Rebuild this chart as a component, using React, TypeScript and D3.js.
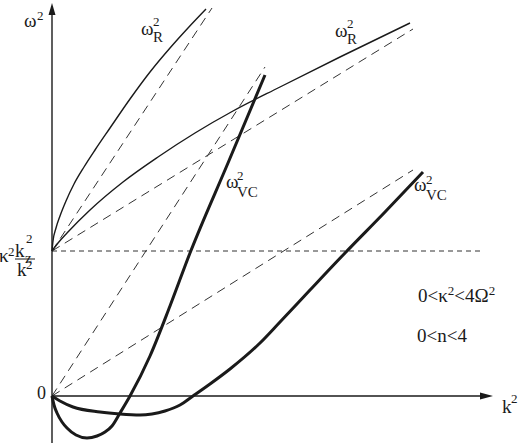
import * as d3 from "d3";

type Pt = [number, number];

// k^2 on x, omega^2 on y (arbitrary units)
const rSteep: Pt[] = [
  [0, 1.45], [0.01, 1.55], [0.04, 1.68], [0.08, 1.8], [0.14, 1.95], [0.22, 2.12],
  [0.32, 2.29], [0.43, 2.46], [0.58, 2.68], [0.78, 2.97], [0.98, 3.24], [1.18, 3.48],
  [1.36, 3.68], [1.54, 3.87],
];
const rShallow: Pt[] = [
  [0, 1.45], [0.06, 1.53], [0.15, 1.63], [0.38, 1.86], [0.71, 2.14], [1.06, 2.39],
  [1.43, 2.63], [1.81, 2.85], [2.28, 3.09], [2.88, 3.39], [3.58, 3.73],
];
const vcSteep: Pt[] = [
  [0, 0], [0.02, -0.09], [0.05, -0.17], [0.1, -0.26], [0.15, -0.32], [0.24, -0.39],
  [0.35, -0.42], [0.45, -0.4], [0.53, -0.36], [0.6, -0.3], [0.68, -0.17], [0.78, 0],
  [0.98, 0.4], [1.18, 0.9], [1.38, 1.43], [1.76, 2.33], [2.13, 3.21],
];
const vcShallow: Pt[] = [
  [0, 0], [0.08, -0.05], [0.21, -0.11], [0.48, -0.16], [0.68, -0.18], [0.88, -0.19],
  [1.0, -0.18], [1.13, -0.15], [1.28, -0.09], [1.41, 0], [1.58, 0.12], [1.78, 0.27],
  [2.08, 0.53], [2.28, 0.74], [2.58, 1.06], [2.93, 1.43], [3.33, 1.84], [3.71, 2.24],
];
// dashed guide lines
const guides: Pt[][] = [
  [[0, 1.45], [1.6, 3.88]],
  [[0, 1.45], [3.61, 3.67]],
  [[0, 0], [2.13, 3.29]],
  [[0, 0], [3.61, 2.26]],
];
const levelLine: Pt[] = [[0, 1.45], [4.3, 1.45]];

const xMax = 4.41;
const yMax = 3.93;
const yMin = -0.47;

const FONT = "'Liberation Serif', 'DejaVu Serif', serif";
const INK = "#1a1a1a";

export default function App() {
  const x = d3.scaleLinear().domain([0, xMax]).range([52, 493]);
  const y = d3.scaleLinear().domain([0, yMax]).range([396, 3]);

  const curve = d3.line<Pt>().x(d => x(d[0])).y(d => y(d[1])).curve(d3.curveMonotoneX);
  const straight = d3.line<Pt>().x(d => x(d[0])).y(d => y(d[1]));

  const x0 = x(0), y0 = y(0);
  const big = 19, sub = 15, sup = 13;

  return (
    <svg width={520} height={443}
      style={{ position: "absolute", left: 0, top: 0, background: "#fff", fontFamily: FONT }}
      fill={INK}>
      {/* guides */}
      {guides.map((g, i) => (
        <path key={i} d={straight(g) || ""} stroke="#333" strokeWidth={1} strokeDasharray="9,6" fill="none" />
      ))}
      <path d={straight(levelLine) || ""} stroke="#333" strokeWidth={1} strokeDasharray="5,4" fill="none" />

      {/* axes */}
      <line x1={x0} y1={y(yMin)} x2={x0} y2={y(yMax) + 10} stroke={INK} strokeWidth={1.4} />
      <path d={`M${x0},${y(yMax)} L${x0 - 3.5},${y(yMax) + 12} L${x0 + 3.5},${y(yMax) + 12} Z`} fill={INK} />
      <line x1={x0} y1={y0} x2={x(xMax) - 10} y2={y0} stroke={INK} strokeWidth={1.4} />
      <path d={`M${x(xMax)},${y0} L${x(xMax) - 13},${y0 - 3.5} L${x(xMax) - 13},${y0 + 3.5} Z`} fill={INK} />

      {/* curves */}
      <path d={curve(rSteep) || ""} stroke={INK} strokeWidth={1.4} fill="none" />
      <path d={curve(rShallow) || ""} stroke={INK} strokeWidth={1.4} fill="none" />
      <path d={curve(vcSteep) || ""} stroke={INK} strokeWidth={3} fill="none" />
      <path d={curve(vcShallow) || ""} stroke={INK} strokeWidth={3} fill="none" />

      {/* labels */}
      <text x={24} y={27} fontSize={big}>ω</text>
      <text x={37} y={20} fontSize={sup}>2</text>

      <text x={141} y={35} fontSize={big}>ω</text>
      <text x={153} y={42} fontSize={sub}>R</text>
      <text x={153} y={26} fontSize={sup}>2</text>

      <text x={335} y={37} fontSize={big}>ω</text>
      <text x={347} y={44} fontSize={sub}>R</text>
      <text x={347} y={28} fontSize={sup}>2</text>

      <text x={226} y={188} fontSize={big}>ω</text>
      <text x={237} y={197} fontSize={sub}>VC</text>
      <text x={237} y={180} fontSize={sup}>2</text>

      <text x={414} y={191} fontSize={big}>ω</text>
      <text x={426} y={200} fontSize={sub}>VC</text>
      <text x={426} y={184} fontSize={sup}>2</text>

      <text x={46} y={399} fontSize={18} textAnchor="end">0</text>

      <text x={502} y={413} fontSize={big}>k</text>
      <text x={511} y={403} fontSize={sup}>2</text>

      {/* kappa^2 kz^2 / k^2 */}
      <text x={-1} y={262} fontSize={big}>κ</text>
      <text x={8} y={256} fontSize={sup}>2</text>
      <text x={15} y={257} fontSize={big}>k</text>
      <text x={25} y={263} fontSize={sub}>z</text>
      <text x={26} y={243} fontSize={sup}>2</text>
      <line x1={15} y1={259} x2={35} y2={259} stroke={INK} strokeWidth={1} />
      <text x={17} y={276} fontSize={big}>k</text>
      <text x={26} y={269} fontSize={sup}>2</text>

      <text x={418} y={302} fontSize={big}>
        0&lt;κ<tspan fontSize={sup} dy={-7}>2</tspan><tspan dy={7}>&lt;4Ω</tspan><tspan fontSize={sup} dy={-7}>2</tspan>
      </text>
      <text x={417} y={342} fontSize={big}>0&lt;n&lt;4</text>
    </svg>
  );
}
